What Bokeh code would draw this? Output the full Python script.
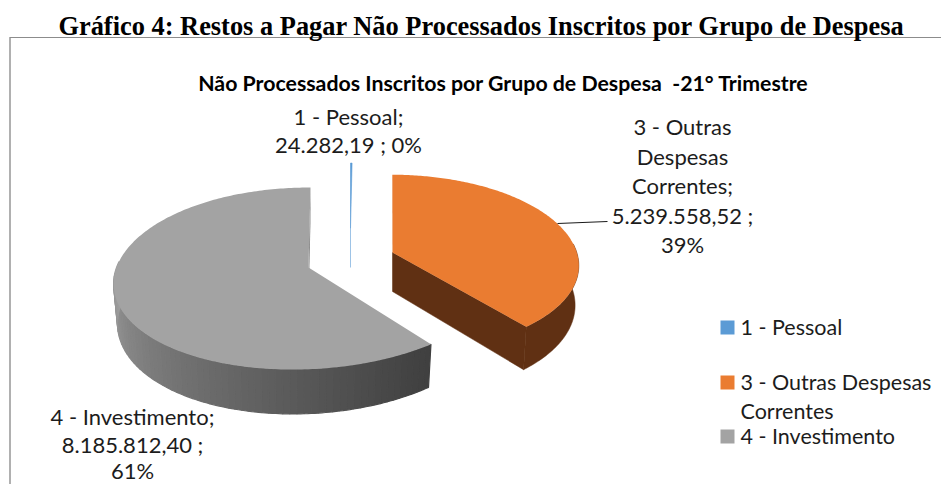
from bokeh.plotting import figure
from bokeh.embed import file_html
from bokeh.resources import INLINE
from bokeh.core.properties import value
import numpy as np

categories = ["1 - Pessoal", "3 - Outras Despesas Correntes", "4 - Investimento"]
values = [24282.19, 5239558.52, 8185812.40]
value_labels = ["24.282,19", "5.239.558,52", "8.185.812,40"]
percent_labels = ["0%", "39%", "61%"]
colors = ["#5B9BD5", "#EA7C31", "#A3A3A3"]
page_title = "Gráfico 4: Restos a Pagar Não Processados Inscritos por Grupo de Despesa"
chart_title = "Não Processados Inscritos por Grupo de Despesa \u00a0-21° Trimestre"

W, H = 941, 484
p = figure(width=W, height=H, x_range=(0, W), y_range=(H, 0), output_backend="svg",
           toolbar_location=None, min_border=0, outline_line_color=None)
p.axis.visible = False
p.grid.visible = False
p.background_fill_color = "white"

K, RY, DEPTH = 0.121, 89.7, 39.0
# (apex x, apex y, rx, radial scale, skew a, skew b) per slice
anchors = [(350, 228, 190, 0.8, 0.0, 0.0),
           (392, 252, 190, 0.97, -5.3, 3.3),
           (308, 267, 192, 1.0, 9.0, -7.0)]


def project(anchor, theta, lower=False):
    ax, ay, rx, r, sa, sb = anchor
    theta = np.asarray(theta, dtype=float)
    X, Y = r * np.sin(theta), r * np.cos(theta)
    s = 1 / (1 + K * Y)
    x = ax + sa * Y + sb * Y * Y + rx * X * s
    y = ay - RY * Y * s
    if lower:
        x = ax + (x - ax) * 0.98
        y = y + DEPTH * s
    return x, y


def apex(anchor, lower=False):
    return (anchor[0], anchor[1] + (DEPTH if lower else 0))


total = sum(values)
edges = np.concatenate([[0], np.cumsum(values)]) / total * 2 * np.pi

# Frame of the chart
p.line([9.5, 9.5], [484, 37], line_color="#B0B0B0", line_width=2)
p.line([9, 941], [37, 37], line_color="#8C8C8C", line_width=1)

# Grey slice
a = anchors[2]
t0, t1 = edges[2], edges[3]
ax_, ay_ = apex(a); lx_, ly_ = apex(a, True)
sx, sy = project(a, t1); slx, sly = project(a, t1, True)
p.patch([ax_, sx, slx, lx_], [ay_, sy, sly, ly_], fill_color="#7F7F7F", line_color=None)
n = 70
wall_end = t0 + (3 * np.pi / 2 - t0) * 1.03
ts = np.linspace(t0, wall_end, n + 1)
for i in range(n):
    tt = np.linspace(ts[i], ts[i + 1], 3)
    ux, uy = project(a, tt)
    lx, ly = project(a, tt, True)
    f = i / (n - 1)
    c = int(64 + (160 - 64) * f ** 1.05)
    col = f"#{c:02x}{c:02x}{c:02x}"
    p.patch(list(ux) + list(lx[::-1]), list(uy) + list(ly[::-1]), fill_color=col, line_color=col, line_width=1.2)
tt = np.linspace(t0, t1, 240)
ux, uy = project(a, tt)
p.patch([ax_] + list(ux), [ay_] + list(uy), fill_color=colors[2], line_color=None)

# Orange slice
a = anchors[1]
t0, t1 = edges[1], edges[2]
ax_, ay_ = apex(a); lx_, ly_ = apex(a, True)
side = "#603013"
sx, sy = project(a, t0); slx, sly = project(a, t0, True)
p.patch([ax_, sx, slx, lx_], [ay_, sy, sly, ly_], fill_color=side, line_color=None)
ex, ey = project(a, t1); elx, ely = project(a, t1, True)
p.patch([ax_, ex, elx, lx_], [ay_, ey, ely, ly_], fill_color=side, line_color=side, line_width=0.5)
tt = np.linspace(np.pi / 2 - 0.1, t1, 80)
ux, uy = project(a, tt); lx, ly = project(a, tt, True)
p.patch(list(ux) + list(lx[::-1]), list(uy) + list(ly[::-1]), fill_color=side, line_color=side, line_width=0.5)
tt = np.linspace(t0, t1, 200)
ux, uy = project(a, tt)
p.patch([ax_] + list(ux), [ay_] + list(uy), fill_color=colors[1], line_color=None)

# Blue slice
a = anchors[0]
t0, t1 = edges[0], edges[1]
ax_, ay_ = apex(a); lx_, ly_ = apex(a, True)
ux, uy = project(a, np.array([t0, t1]))
p.line([ax_, lx_], [ay_, ly_], line_color=colors[0], line_width=1, line_alpha=0.6)
p.patch([ax_] + list(ux), [ay_] + list(uy), fill_color=colors[0], line_color=colors[0], line_width=0.6)

# Leader line
p.line([557, 607], [223, 221], line_color="#1a1a1a", line_width=1)


def txt(x, y, s, size="22px", align="center", font="Lato", style="normal", color="#1c1c1c"):
    p.text([x], [y], text=[s], text_font=value(font), text_font_size=value(size),
           text_font_style=value(style), text_align=value(align), text_baseline=value("middle"),
           text_color=value(color))


txt(481, 25.5, page_title, size="26.4px", font="Liberation Serif", style="bold", color="black")
txt(503, 82.5, chart_title, size="21.3px", style="bold", color="black")
txt(348, 116, categories[0] + ";")
txt(348, 144, f"{value_labels[0]} ; {percent_labels[0]}")
txt(682, 126, "3 - Outras")
txt(682, 156, "Despesas")
txt(682, 185, "Correntes;")
txt(682, 215, value_labels[1] + " ;")
txt(682, 244, percent_labels[1])
txt(132, 416, categories[2] + ";")
txt(132, 444, value_labels[2] + " ;")
txt(132, 470, percent_labels[2])

# Legend
for col, y in zip(colors, [327, 382, 436]):
    p.rect([727], [y], width=14, height=14, fill_color=col, line_color=None)
txt(740, 326, categories[0], size="21.5px", align="left")
txt(740, 381, "3 - Outras Despesas", size="21.5px", align="left")
txt(740, 410, "Correntes", size="21.5px", align="left")
txt(740, 435.5, categories[2], size="21.5px", align="left")

open("out.html", "w").write(file_html(p, INLINE))
